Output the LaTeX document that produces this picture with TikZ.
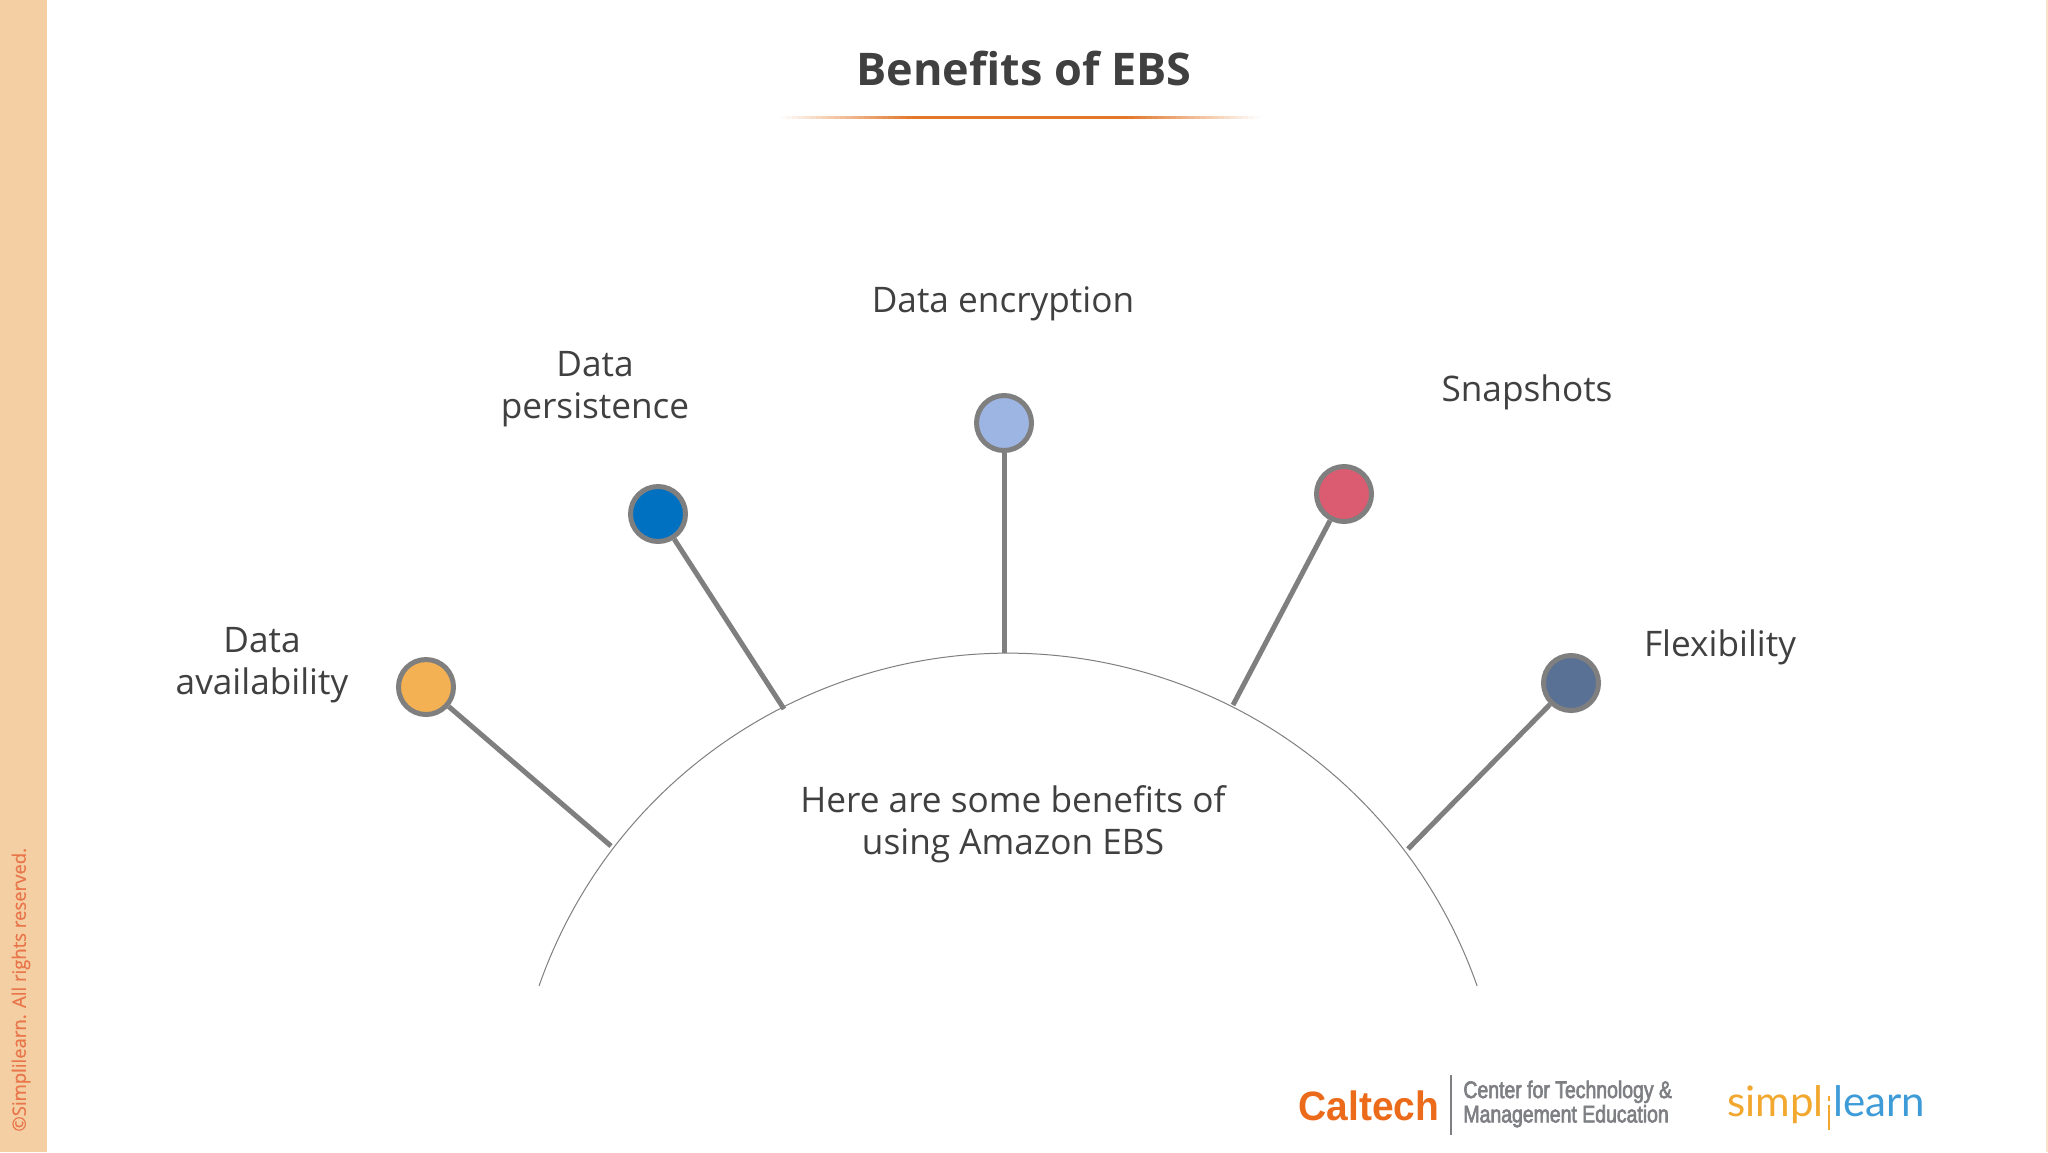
\documentclass[tikz,border=0pt]{standalone}
\usepackage{fontspec}
\setmainfont{Open Sans}
\newfontfamily\capfont[FakeStretch=0.95]{Liberation Sans}
\newfontfamily\tallfont[FakeStretch=0.81,FakeBold=2.5]{Liberation Sans}
\newfontfamily\cpfont[FakeBold=0.6]{Open Sans}
\newfontfamily\slfont{Lato}
\definecolor{ink}{HTML}{404040}
\definecolor{stem}{HTML}{7F7F7F}
\definecolor{side}{HTML}{F5CFA4}
\definecolor{rule}{HTML}{E2772A}
\definecolor{calt}{HTML}{EC6B1B}
\definecolor{cgray}{HTML}{7D7F83}
\definecolor{slo}{HTML}{F2A72E}
\definecolor{slb}{HTML}{3D9BD8}
\definecolor{copyc}{HTML}{E8764A}
\tikzset{
 x=0.5pt,y=-0.5pt,
 pin/.style={circle,draw=stem,line width=2.5pt,minimum size=27.5pt,inner sep=0pt},
 stemline/.style={draw=stem,line width=2.5pt},
 body/.style={text=ink,font=\fontsize{17.6}{21}\selectfont,align=center,inner sep=0pt},
 sl/.style={font=\slfont\fontsize{21}{24}\selectfont,inner sep=0pt},
}
\begin{document}
\begin{tikzpicture}
\useasboundingbox (0,0) rectangle (2048,1152);
\fill[white] (0,0) rectangle (2048,1152);
\fill[side] (0,0) rectangle (47,1152);
\fill[side!60] (2046,0) rectangle (2048,1152);
\node[rotate=90,text=copyc,font=\cpfont\fontsize{9.25}{12}\selectfont,inner sep=0pt,anchor=west] (copy) at (21,1132) {©Simplilearn. All rights reserved.};
\node[text=ink,font=\fontsize{22.5}{28}\selectfont\bfseries,inner sep=0pt] (title) at (1024,68) {Benefits of EBS};
% underline fading to white at both ends
\foreach \i in {0,...,79}{
  \pgfmathsetmacro{\t}{abs(\i+0.5-40)/40}
  \pgfmathsetmacro{\m}{100*min(1,max(0,(1-\t)/0.55))}
  \fill[rule!\m!white] ({780+6*\i},115.5) rectangle ({780+6*\i+6.6},118.5);
}
% dome
\draw[draw=stem,line width=0.5pt] (539,986) arc[start angle=160.7,end angle=19.3,radius=248.5pt];
\coordinate (e1) at (611,846);
\coordinate (e2) at (784,709);
\coordinate (e3) at (1005,653);
\coordinate (e4) at (1233,705);
\coordinate (e5) at (1408,849);
\node[pin,fill={rgb,255:red,244;green,177;blue,83}] (p1) at (426,687) {};
\node[pin,fill={rgb,255:red,0;green,112;blue,192}] (p2) at (658,514) {};
\node[pin,fill={rgb,255:red,157;green,181;blue,226}] (p3) at (1004,423) {};
\node[pin,fill={rgb,255:red,219;green,92;blue,112}] (p4) at (1344,494) {};
\node[pin,fill={rgb,255:red,89;green,113;blue,148}] (p5) at (1571,683) {};
\draw[stemline] (p1) -- (e1);
\draw[stemline] (p2) -- (e2);
\draw[stemline] (p3.south) -- (p3.south |- e3);
\draw[stemline] (p4) -- (e4);
\draw[stemline] (p5) -- (e5);
\node[body] (l1) at (262,665) {Data\\availability};
\node[body] (l2) at (595,389) {Data\\persistence};
\node[body] (l3) at (1003,304) {Data encryption};
\node[body] (l4) at (1527,392) {Snapshots};
\node[body] (l5) at (1720,647) {Flexibility};
\node[body] (lc) at (1013,824) {Here are some benefits of\\using Amazon EBS};
% logos
\node[text=calt,font=\capfont\bfseries\fontsize{20.5}{24}\selectfont,inner sep=0pt] (cal) at (1369,1106) {Caltech};
\coordinate (d1) at (1451,1075);
\coordinate (d2) at (1451,1135);
\draw[cgray,line width=0.8pt] (d1) -- (d2);
\node[text=cgray,font=\tallfont\fontsize{12}{11}\selectfont,align=left,inner sep=0pt,anchor=west] (cen) at (1463,1104) {Center for Technology \&\\Management Education};
\node[sl,text=slo,anchor=base east] (sl1) at (1824,1116) {simpl};
\node[sl,text=slb,anchor=base west] (sl2) at (1833,1116) {learn};
\coordinate (i1) at (1829,1105);
\coordinate (i2) at (1829,1130);
\coordinate (i3) at (1829,1096);
\coordinate (i4) at (1829,1101);
\draw[slo,line width=1.2pt] (i1) -- (i2);
\draw[slo,line width=1.2pt] (i3) -- (i4);
\end{tikzpicture}
\end{document}
